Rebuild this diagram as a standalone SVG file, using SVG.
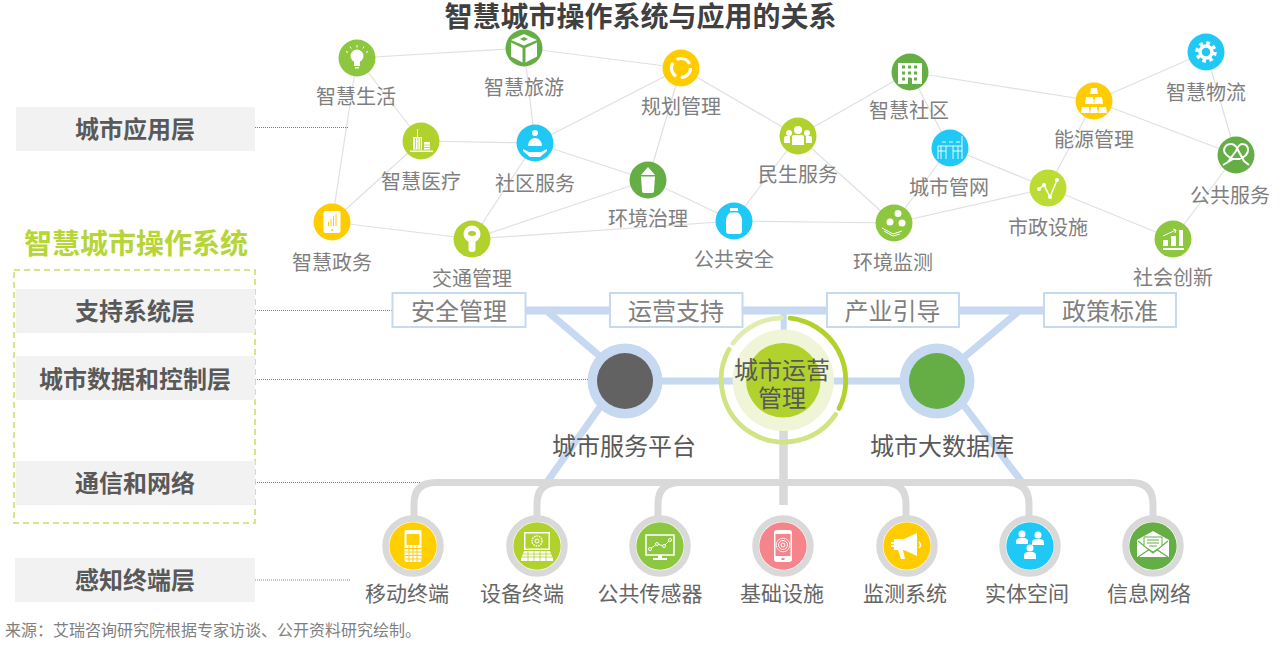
<svg xmlns="http://www.w3.org/2000/svg" width="1286" height="651" viewBox="0 0 1286 651">
<style>
text{font-family:"Noto Sans CJK SC","Noto Sans",sans-serif;text-anchor:middle;dominant-baseline:central}
.title{font-size:28px;font-weight:700;fill:#404040}
.os{font-size:28px;font-weight:700;fill:#b5d636}
.layer{font-size:24px;font-weight:700;fill:#595959}
.lb{font-size:20px;fill:#7f7f7f}
.bl{font-size:21px;fill:#666}
.box{font-size:24px;fill:#7f7f7f}
.mid{font-size:24px;fill:#595959}
.src{font-size:16px;fill:#7f7f7f;text-anchor:start}
.lr{fill:#f2f2f2}
.edge{stroke:#e0e0e0;fill:none}
.lead{stroke:#7f7f7f;stroke-dasharray:1 1;fill:none}
.blue{stroke:#c6d9f1;fill:none}
.grey{stroke:#d9d9d9;fill:none}
.bx{fill:#fff;stroke:#c6d9f1;stroke-width:2}
.w{fill:#fff}
.ws{stroke:#fff;fill:none}
.ring{fill:none;stroke:#d9d9d9;stroke-width:6.5}
</style>
<rect width="1286" height="651" fill="#fff"/>
<g id="connectors">
<g class="edge" stroke-width="1.2">
<path d="M357 58L524 48M524 48L681 68M357 58L421 141M357 58L332 222M524 48L535 143M681 68L535 143M681 68L648 180M681 68L798 136M421 141L535 143M421 141L332 222M535 143L472 239M535 143L648 180M648 180L472 239M648 180L734 221M332 222L472 239M472 239L734 221M734 221L798 136M734 221L894 223M798 136L910 72M798 136L894 223M910 72L950 148M910 72L1094 101M950 148L894 223M950 148L1048 188M894 223L1048 188M1094 101L1048 188M1094 101L1206 52M1094 101L1236 155M1206 52L1236 155M1236 155L1173 239M1048 188L1173 239"/>
</g>
<g class="lead">
<path stroke-width="1" d="M255 127.5H348M255 310.5H392M255 379.5H590M255 482.5H456"/>
<path d="M255 580H350" stroke-opacity=".6" stroke-width="1.500"/>
</g>
<g class="blue" stroke-width="7">
<path d="M520 310.5H1050" stroke-width="8"/>
<path d="M548 312L602 358M600 407L547 482M1018 312L962 359M962 403L1022 482M655 381H915"/>
<path d="M783.7 310V345" stroke-width="6"/>
</g>
<g class="grey" stroke-width="7">
<path d="M414 518V504Q414 482.5 436 482.5H1131Q1153 482.5 1153 504V518"/>
<path d="M537 518V504Q537 482.5 559 482.5M658 518V504Q658 482.5 680 482.5M906 518V504Q906 482.5 884 482.5M1029 518V504Q1029 482.5 1007 482.5"/>
<path d="M783.5 430V505" stroke-width="8.500"/>
</g>
</g>

<text class="title" x="640.500" y="15">智慧城市操作系统与应用的关系</text>
<text class="os" x="136" y="242">智慧城市操作系统</text>
<rect x="14" y="270" width="241" height="253" fill="none" stroke="#c6de66" stroke-width="1.500" stroke-dasharray="6 4"/>

<g id="layer-app"><rect class="lr" x="16" y="107" width="239" height="44"/><text class="layer" x="135" y="127">城市应用层</text></g>
<g id="layer-support"><rect class="lr" x="16" y="289" width="239" height="44"/><text class="layer" x="135" y="309">支持系统层</text></g>
<g id="layer-data"><rect class="lr" x="16" y="356" width="239" height="44"/><text class="layer" x="135" y="377">城市数据和控制层</text></g>
<g id="layer-net"><rect class="lr" x="16" y="461" width="239" height="44"/><text class="layer" x="135" y="481">通信和网络</text></g>
<g id="layer-sense"><rect class="lr" x="15" y="558" width="240" height="44"/><text class="layer" x="135" y="578">感知终端层</text></g>

<g id="box-safety"><rect class="bx" x="392.500" y="293" width="133" height="34"/><text class="box" x="459" y="309">安全管理</text></g>
<g id="box-ops"><rect class="bx" x="610" y="293" width="132.500" height="34"/><text class="box" x="676" y="309">运营支持</text></g>
<g id="box-industry"><rect class="bx" x="827" y="293" width="132" height="34"/><text class="box" x="892.500" y="309">产业引导</text></g>
<g id="box-policy"><rect class="bx" x="1044" y="293" width="132" height="34"/><text class="box" x="1110" y="309">政策标准</text></g>

<g id="hub-service"><circle cx="625" cy="381" r="37.500" fill="#c6d9f1"/><circle cx="625" cy="381" r="28" fill="#626262"/><text class="mid" x="624" y="444">城市服务平台</text></g>
<g id="hub-data"><circle cx="937" cy="381" r="37.500" fill="#c6d9f1"/><circle cx="937" cy="381" r="28" fill="#64ae45"/><text class="mid" x="942" y="444">城市大数据库</text></g>
<g id="hub-ops">
<circle cx="783.300" cy="380.300" r="50.700" fill="#eff5d6"/>
<circle cx="783.300" cy="380.300" r="37.300" fill="#b1d12c"/>
<g fill="none" stroke-width="4.800" stroke-linecap="round">
<path d="M790 318.200A62.500 62.500 0 0 1 839.100 408.400" stroke="#b1d12c"/>
<path d="M835.500 414.600A62.500 62.500 0 0 1 729 349.400" stroke="#d0e484"/>
<path d="M733.100 343.100A62.500 62.500 0 0 1 781.600 317.800" stroke="#e0ecb0"/>
</g>
<text class="mid"><tspan x="782" y="368">城市运营</tspan><tspan x="782" y="396">管理</tspan></text>
</g>

<g id="n-life" transform="translate(357 58)"><circle r="18.500" fill="#8dc63f"/>
<circle class="w" cy="-2" r="6.500"/><path class="w" d="M-3 3H3V8H-3ZM-2 9H2V10.500H-2Z"/><path class="ws" stroke-width="1" d="M0-13V-10.500M-7-11.500L-5.800-9.500M7-11.500L5.800-9.500M-11-6.500L-9-5.500M11-6.500L9-5.500"/></g>
<text class="lb" x="356" y="95">智慧生活</text>
<g id="n-tour" transform="translate(524 48)"><circle r="18.500" fill="#64ae45"/>
<path class="w" d="M0-14L13-8L0-2.500L-13-8ZM-13-5.500L-1.500 0V14.500L-13 8.500ZM13-5.500L1.500 0V14.500L13 8.500Z"/><path fill="#64ae45" d="M-4-9L0-11L4-9L0-7Z"/></g>
<text class="lb" x="524" y="86">智慧旅游</text>
<g id="n-plan" transform="translate(681 68)"><circle r="18.500" fill="#ffcc00"/>
<circle r="9.500" class="ws" stroke-width="3.200" stroke-dasharray="15 5"/></g>
<text class="lb" x="681" y="105">规划管理</text>
<g id="n-med" transform="translate(421 141)"><circle r="18.500" fill="#b1d12c"/>
<path class="w" d="M-8-4H-4V-12H-3V-4H1V8.500H-8ZM3 1H9V8.500H3ZM-11 9.500H12V11H-11Z"/><path stroke="#b1d12c" stroke-width=".8" d="M-5.500-3V8M-3-3V8M-.5-3V8M3 4H9M3 6.500H9"/></g>
<text class="lb" x="421" y="180">智慧医疗</text>
<g id="n-comm" transform="translate(535 143)"><circle r="18.500" fill="#1fc8f5"/>
<circle class="w" cy="-10" r="3"/><path class="w" d="M-7 3A7 8 0 0 1 7 3ZM-12 6L-6 9H6L12 6V8L5 14H-5L-12 8Z"/></g>
<text class="lb" x="535" y="182">社区服务</text>
<g id="n-env" transform="translate(648 180)"><circle r="18.500" fill="#64ae45"/>
<path class="w" d="M0-13L7-5H-7ZM-7-3.500H7L6 11Q6 13 4 13H-4Q-6 13-6 11Z"/></g>
<text class="lb" x="648" y="217">环境治理</text>
<g id="n-gov" transform="translate(332 222)"><circle r="18.500" fill="#ffcc00"/>
<rect class="w" x="-8.500" y="-11" width="17" height="22" rx="2"/><path stroke="#ffcc00" stroke-width="1" d="M-3.500 4V0M-1 4V-3M1.500 4V-6M4 4V-8"/><circle cy="8" r="1" fill="#ffcc00"/></g>
<text class="lb" x="332" y="261">智慧政务</text>
<g id="n-traffic" transform="translate(472 239)"><circle r="18.500" fill="#b1d12c"/>
<circle class="w" cy="-5" r="8.500"/><ellipse cy="-5.500" rx="4" ry="2.500" fill="#b1d12c"/><rect class="w" x="-3.500" y="0" width="7" height="13" rx="3"/></g>
<text class="lb" x="472" y="277">交通管理</text>
<g id="n-safe" transform="translate(734 221)"><circle r="18.500" fill="#1fc8f5"/>
<path class="w" d="M-4-13H4V-10H-4ZM-4-8.500H4Q8-5 8-1V10Q8 13 5 13H-5Q-8 13-8 10V-1Q-8-5-4-8.500Z"/></g>
<text class="lb" x="734" y="258">公共安全</text>
<g id="n-people" transform="translate(798 136)"><circle r="18.500" fill="#b1d12c"/>
<g class="w"><circle cy="-6" r="4"/><circle cx="-9" cy="-3" r="3"/><circle cx="9" cy="-3" r="3"/><path d="M-6 9V1Q-6-1-4-1H4Q6-1 6 1V9ZM-14 7V2Q-14 0-12 0H-8V7ZM14 7V2Q14 0 12 0H8V7Z"/></g></g>
<text class="lb" x="798" y="173">民生服务</text>
<g id="n-resid" transform="translate(910 72)"><circle r="18.500" fill="#64ae45"/>
<rect class="w" x="-12" y="-9" width="24" height="21"/><path stroke="#64ae45" stroke-width="3" stroke-dasharray="3 3" d="M-8-5H9M-8 1H9M-8 7H9"/><path fill="#64ae45" d="M-2 6H2V12H-2Z"/></g>
<text class="lb" x="909" y="109">智慧社区</text>
<g id="n-pipe" transform="translate(950 148)"><circle r="18.500" fill="#1fc8f5"/>
<path class="ws" stroke-width=".9" d="M-12-2V11M-9-2V11M-4-2V11M3-2V11M8-2V11M12-12V11M-12-2H12M-12 3H-4M3 3H12M-8-6H-4M-1-6H3M6-6H10"/></g>
<text class="lb" x="949" y="186">城市管网</text>
<g id="n-mon" transform="translate(894 223)"><circle r="18.500" fill="#8dc63f"/>
<g class="w"><circle cx="4" cy="-9.500" r="3.500"/><circle cx="-4" cy="-1" r="3.500"/><circle cx="8" cy="0" r="3.500"/></g><path class="ws" stroke-width="1" d="M-12 5L-1 11L8 8M-10 8L-1 13L6 11"/></g>
<text class="lb" x="893" y="261">环境监测</text>
<g id="n-muni" transform="translate(1048 188)"><circle r="18.500" fill="#bcdc34"/>
<path class="ws" stroke-width="1.500" d="M-9 1L-4-3L2 9L9-8"/><g class="w"><circle cx="-9" cy="1" r="2"/><circle cx="-4" cy="-3" r="2"/><circle cx="2" cy="9" r="2"/><circle cx="9" cy="-8" r="2"/></g></g>
<text class="lb" x="1048" y="226">市政设施</text>
<g id="n-energy" transform="translate(1094 101)"><circle r="18.500" fill="#ffcc00"/>
<path class="w" d="M-3-13H3L4-7H-4ZM-8-4H-1L0 3H-9ZM1-4H8L9 3H0ZM-12 6H-5L-4.500 12H-13ZM-3 6H3L4 12H-4ZM5 6H12L13 12H4.500Z"/></g>
<text class="lb" x="1094" y="138">能源管理</text>
<g id="n-log" transform="translate(1206 52)"><circle r="18.500" fill="#1fc8f5"/>
<circle r="9" class="ws" stroke-width="3.500" stroke-dasharray="3.600 3.470"/><circle r="6" class="ws" stroke-width="3.500"/></g>
<text class="lb" x="1206" y="91">智慧物流</text>
<g id="n-pub" transform="translate(1236 155)"><circle r="18.500" fill="#64ae45"/>
<path class="ws" stroke-width="2" d="M-13 10L-3 4Q-12 0-12-5Q-11-11-5-11Q0-11 3-3L8 6L13 10M-8 7Q-3 0 0-4Q3-11 6-11Q12-11 12-5Q12 1 3 4L-3 4"/></g>
<text class="lb" x="1230" y="194">公共服务</text>
<g id="n-innov" transform="translate(1173 239)"><circle r="18.500" fill="#8dc63f"/>
<path class="w" d="M-10 1H-5V7H-10ZM-2-3H3V7H-2ZM6-9H10V7H6ZM-10 9H11V11H-10Z"/><path class="ws" stroke-width="1" d="M-10-3L3-9M0-10L3-9L2-6"/></g>
<text class="lb" x="1173" y="276">社会创新</text>

<g id="b-mobile" transform="translate(413 546)"><circle class="ring" r="27.500"/><circle r="23.700" fill="#ffcf00"/>
<rect class="w" x="-8.500" y="-16" width="17" height="32" rx="2"/><rect x="-6.500" y="-12" width="13" height="11" fill="#ffcf00" rx="1"/><path stroke="#ffcf00" stroke-width="1" d="M-8.500 2.500H8.500M-8.500 6H8.500M-8.500 9.500H8.500M-8.500 13H8.500M-4 0V16M0 0V16M4 0V16"/></g>
<text class="bl" x="407" y="592">移动终端</text>
<g id="b-device" transform="translate(537 546)"><circle class="ring" r="27.500"/><circle r="23.700" fill="#b1d12c"/>
<path class="w" d="M-13-14H13V4H-13ZM-13 5H13L16 13V15H-16V13Z"/><rect x="-11.500" y="-12.500" width="23" height="15" fill="#b1d12c"/><circle cy="-5" r="5" fill="none" stroke="#fff" stroke-width="1.500" stroke-dasharray="1.500 1"/><circle cy="-5" r="2" fill="none" stroke="#fff"/><path stroke="#b1d12c" stroke-width=".8" d="M-14 8H14M-15 11H15M-9 5V15M-3 5V15M3 5V15M9 5V15"/></g>
<text class="bl" x="522" y="592">设备终端</text>
<g id="b-sensor" transform="translate(660 546)"><circle class="ring" r="27.500"/><circle r="23.700" fill="#8dc63f"/>
<rect x="-14" y="-11" width="28" height="20" fill="none" stroke="#fff" stroke-width="1.500"/><path class="w" d="M-2 9H2V12H7V14H-7V12H-2Z"/><path class="ws" stroke-width="1" d="M-10 3L-3-2L4 0L10-6"/><g fill="#8dc63f" stroke="#fff"><circle cx="-10" cy="3" r="1.500"/><circle cx="-3" cy="-2" r="1.500"/><circle cx="4" cy="0" r="1.500"/><circle cx="10" cy="-6" r="1.500"/></g></g>
<text class="bl" x="650" y="592">公共传感器</text>
<g id="b-infra" transform="translate(783 546)"><circle class="ring" r="27.500"/><circle r="23.700" fill="#f6858b"/>
<rect class="w" x="-9" y="-16" width="18" height="32" rx="3"/><rect x="-7.500" y="-12" width="15" height="22" fill="#f6858b"/><g fill="none" stroke="#fff"><circle cy="-1" r="2"/><circle cy="-1" r="4.500"/></g><circle cy="-1" r="6.800" fill="none" stroke="#fff" stroke-width=".8"/><rect x="-1.500" y="12" width="3" height="2" fill="#f6858b"/></g>
<text class="bl" x="782" y="592">基础设施</text>
<g id="b-watch" transform="translate(907 546)"><circle class="ring" r="27.500"/><circle r="23.700" fill="#ffcc00"/>
<path class="w" d="M-13-7H-3L10-13V10L-3 4H-4L-2 13H-6L-9 4H-13V1H-16V-1H-13V-2H-16V-4H-13Z"/><path class="ws" stroke-width="1.500" d="M12-4Q15 -1 12 2"/></g>
<text class="bl" x="905" y="592">监测系统</text>
<g id="b-space" transform="translate(1030 546)"><circle class="ring" r="27.500"/><circle r="23.700" fill="#1fc8f5"/>
<g class="w"><circle cx="-8" cy="-12" r="3.500"/><path d="M-14-2V-5Q-14-7-11-8H-5Q-2-7-2-5V-2Z"/><circle cx="8" cy="-11" r="3.500"/><path d="M2-1V-4Q2-6 5-7H11Q14-6 14-4V-1Z"/><circle cy="2" r="3.500"/><path d="M-6 13V9Q-6 7-3 6H3Q6 7 6 9V13Z"/></g></g>
<text class="bl" x="1027" y="592">实体空间</text>
<g id="b-info" transform="translate(1153 546)"><circle class="ring" r="27.500"/><circle r="23.700" fill="#64ae45"/>
<path class="w" d="M0-15L16-6V11H-16V-6Z"/><path fill="none" stroke="#64ae45" stroke-width="1.200" d="M-15-5L0 7L15-5M-15 11L-3 3M15 11L3 3"/><path fill="#fff" stroke="#64ae45" d="M-9-9H9V0L0 6L-9 0Z"/><path stroke="#64ae45" stroke-width="1.200" d="M-6-6H6M-6-3H6M-4 0H4"/></g>
<text class="bl" x="1149" y="592">信息网络</text>

<text class="src" x="5" y="629">来源：艾瑞咨询研究院根据专家访谈、公开资料研究绘制。</text>
</svg>
